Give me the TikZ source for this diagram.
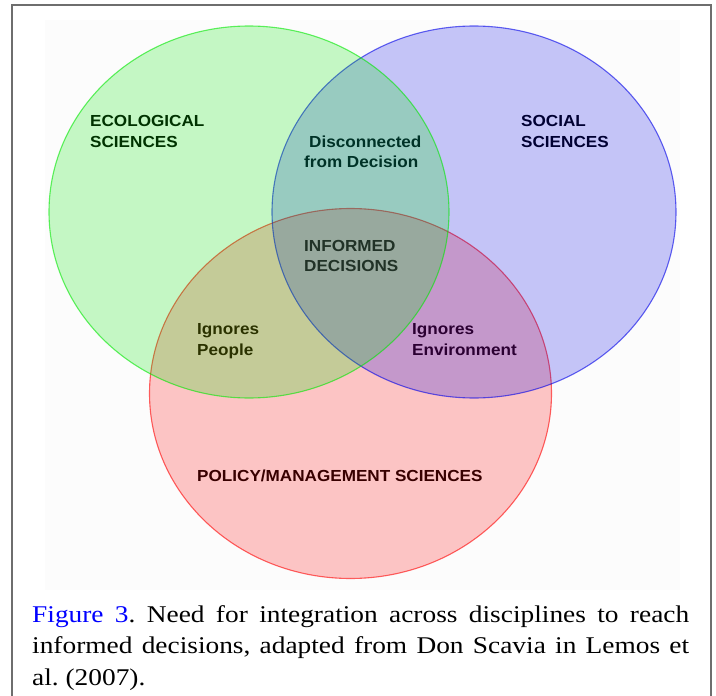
\documentclass[tikz,border=0pt]{standalone}
\usepackage{fontspec}
\setmainfont{Liberation Serif}
\newfontfamily\labfont[FakeStretch=1.07]{Liberation Sans}
\newfontfamily\capfont[FakeStretch=1.14]{Liberation Serif}
\definecolor{frame}{RGB}{110,110,110}
\definecolor{vgreen}{RGB}{0,232,0}
\definecolor{vblue}{RGB}{0,0,232}
\definecolor{vred}{RGB}{255,0,0}
\frenchspacing
\begin{document}
\begin{tikzpicture}[x=1pt,y=-1pt,
  lab/.style={inner sep=0pt, anchor=base west, text=black,
    font=\labfont\bfseries\fontsize{16}{21}\selectfont},
  capline/.style={inner sep=0pt, anchor=base west,
    font=\capfont\fontsize{24}{32}\selectfont},
  venn/.style={fill=#1, fill opacity=0.22, draw=#1, draw opacity=0.6, line width=1.1pt}]
\useasboundingbox (0,0) rectangle (716,696);
\fill[white] (0,0) rectangle (716,696);
% faint canvas behind the diagram
\fill[black!1] (45,20) rectangle (680,590);

% labels sit beneath the translucent circles, which tint them
\node[lab] (eco1) at (90,126) {ECOLOGICAL};
\node[lab] (eco2) at (90,147) {SCIENCES};
\node[lab] (soc1) at (521,126) {SOCIAL};
\node[lab] (soc2) at (521,147) {SCIENCES};
\node[lab] (dis1) at (309,147) {Disconnected};
\node[lab] (dis2) at (304,167) {from Decision};
\node[lab] (inf1) at (304,251) {INFORMED};
\node[lab] (inf2) at (304,271) {DECISIONS};
\node[lab] (ign1) at (197,334) {Ignores};
\node[lab] (ign2) at (197,355) {People};
\node[lab] (env1) at (412,334) {Ignores};
\node[lab] (env2) at (412,355) {Environment};
\node[lab] (pol) at (197,481) {POLICY/MANAGEMENT SCIENCES};

% the three disciplines
\path[venn=vred]   (350.5,393.5) ellipse [x radius=201pt, y radius=185pt];
\path[venn=vblue]  (474,212) ellipse [x radius=202pt, y radius=186pt];
\path[venn=vgreen] (249,212) ellipse [x radius=200pt, y radius=186pt];

% frame
\draw[frame, line width=2pt] (12,696) -- (12,5) -- (711,5) -- (711,696);

% caption
\node[capline] (cap1) at (32,622) {\makebox[657pt][s]{{\color{blue}Figure 3}. Need for integration across disciplines to reach}};
\node[capline] (cap2) at (32,653) {\makebox[657pt][s]{informed decisions, adapted from Don Scavia in Lemos et}};
\node[capline] (cap3) at (32,685) {al. (2007).};
\end{tikzpicture}
\end{document}
